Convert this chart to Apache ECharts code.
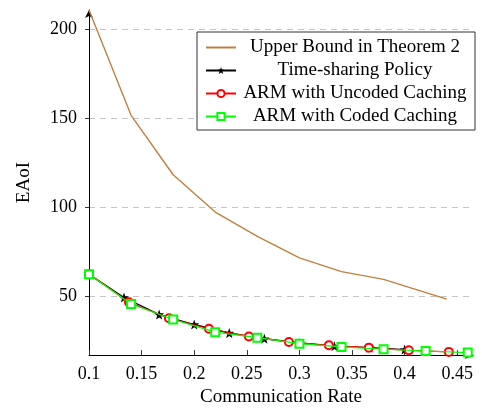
<!DOCTYPE html>
<html>
<head>
<meta charset="utf-8">
<script src="https://cdn.jsdelivr.net/npm/echarts@6/dist/echarts.min.js"></script>
<style>
html,body{margin:0;padding:0;background:#fff;}
#chart{width:482px;height:412px;}
</style>
</head>
<body>
<div id="chart"></div>
<script>
// ---- data ----
const seriesNames = ['Upper Bound in Theorem 2', 'Time-sharing Policy', 'ARM with Uncoded Caching', 'ARM with Coded Caching'];

const upperX = [0.1, 0.14, 0.18, 0.22, 0.26, 0.30, 0.34, 0.38, 0.44];
const upperY = [211, 151.8, 118.4, 97.4, 83.8, 71.7, 63.9, 59.6, 48.5];

const timeX = [0.1, 0.1333, 0.1667, 0.2, 0.2333, 0.2667, 0.3, 0.3333, 0.3667, 0.4];
const timeY = [62.4, 49.4, 39.8, 34.2, 29.4, 26.2, 23.8, 22.0, 21.2, 20.1];

const uncodedX = [0.1, 0.138, 0.176, 0.214, 0.252, 0.29, 0.328, 0.366, 0.404, 0.442];
const uncodedY = [62.4, 46.7, 37.7, 31.8, 27.5, 24.4, 22.5, 21.2, 19.7, 18.8];

const codedX = [0.1, 0.14, 0.18, 0.22, 0.26, 0.30, 0.34, 0.38, 0.42, 0.46];
const codedY = [62.4, 45.7, 37.0, 29.9, 26.8, 23.4, 21.6, 20.3, 19.3, 18.4];

const xTicks = [0.1, 0.15, 0.2, 0.25, 0.3, 0.35, 0.4, 0.45];
const yTicks = [50, 100, 150, 200];

const xLabel = 'Communication Rate';
const yLabel = 'EAoI';

// ---- chart ----
const pair = (xs, ys) => xs.map((x, i) => [x, ys[i]]);
const FONT = '"Liberation Serif", "DejaVu Serif", serif';
const STAR = 'path://M0,-10L2.35,-3.24L9.51,-3.09L3.8,1.24L5.88,8.09L0,4.2L-5.88,8.09L-3.8,1.24L-9.51,-3.09L-2.35,-3.24Z';

const chart = echarts.init(document.getElementById('chart'), null, {renderer: 'canvas'});
chart.setOption({
  animation: false,
  backgroundColor: '#fff',
  grid: {left: 89, right: 9, top: 10, bottom: 54, containLabel: false},
  xAxis: {
    type: 'value', min: 0.1, max: 0.465,
    name: xLabel, nameLocation: 'middle', nameGap: 32,
    nameTextStyle: {fontFamily: FONT, fontSize: 19, color: '#000'},
    axisLine: {show: true, symbol: ['none', 'arrow'], symbolSize: [6, 8], lineStyle: {color: '#000', width: 1}},
    axisTick: {show: true, inside: true, length: 5, customValues: xTicks, lineStyle: {color: '#333'}},
    axisLabel: {customValues: xTicks, fontFamily: FONT, fontSize: 18, color: '#000', margin: 10},
    splitLine: {show: false}
  },
  yAxis: {
    type: 'value', min: 17, max: 211,
    name: yLabel, nameLocation: 'middle', nameRotate: 90, nameGap: 55,
    nameTextStyle: {fontFamily: FONT, fontSize: 19, color: '#000'},
    axisLine: {show: true, symbol: ['none', 'arrow'], symbolSize: [6, 8], lineStyle: {color: '#000', width: 1}},
    axisTick: {show: true, inside: false, length: 4, customValues: yTicks, lineStyle: {color: '#333'}},
    axisLabel: {customValues: yTicks, fontFamily: FONT, fontSize: 18, color: '#000', margin: 12},
    splitLine: {show: true, lineStyle: {color: '#c4c4c4', type: [6, 5], width: 1}}
  },
  legend: {
    orient: 'vertical', left: 197, top: 32,
    padding: [5, 6, 3, 8], itemGap: 2, itemWidth: 30, itemHeight: 9,
    borderColor: '#333', borderWidth: 1, backgroundColor: '#fff',
    data: [
      {name: seriesNames[0], itemStyle: {color: 'rgba(0,0,0,0)', borderWidth: 0, opacity: 0}},
      seriesNames[1], seriesNames[2], seriesNames[3]
    ],
    formatter: n => '{a|' + n + '}',
    textStyle: {
      fontFamily: FONT, fontSize: 19, color: '#000', lineHeight: 21,
      rich: {a: {width: 228, height: 21, align: 'center', lineHeight: 21, fontFamily: FONT, fontSize: 19, color: '#000'}}
    }
  },
  series: [
    {name: seriesNames[0], type: 'line', data: pair(upperX, upperY), symbol: 'none',
     lineStyle: {color: '#bf8040', width: 1.4}, itemStyle: {color: '#bf8040'}, z: 2},
    {name: seriesNames[1], type: 'line', data: pair(timeX, timeY), symbol: STAR, symbolSize: 10,
     lineStyle: {color: '#000', width: 1.3}, itemStyle: {color: '#000'}, z: 3},
    {name: seriesNames[2], type: 'line', data: pair(uncodedX, uncodedY), symbol: 'emptyCircle', symbolSize: 8,
     lineStyle: {color: '#ff0000', width: 1.2}, itemStyle: {color: '#ff0000', borderColor: '#ff0000', borderWidth: 1.2}, z: 4},
    {name: seriesNames[3], type: 'line', data: pair(codedX, codedY), symbol: 'emptyRect', symbolSize: 8,
     lineStyle: {color: '#00ff00', width: 1.2}, itemStyle: {color: '#00ff00', borderColor: '#00ff00', borderWidth: 1.2}, z: 5}
  ]
});
</script>
</body>
</html>
